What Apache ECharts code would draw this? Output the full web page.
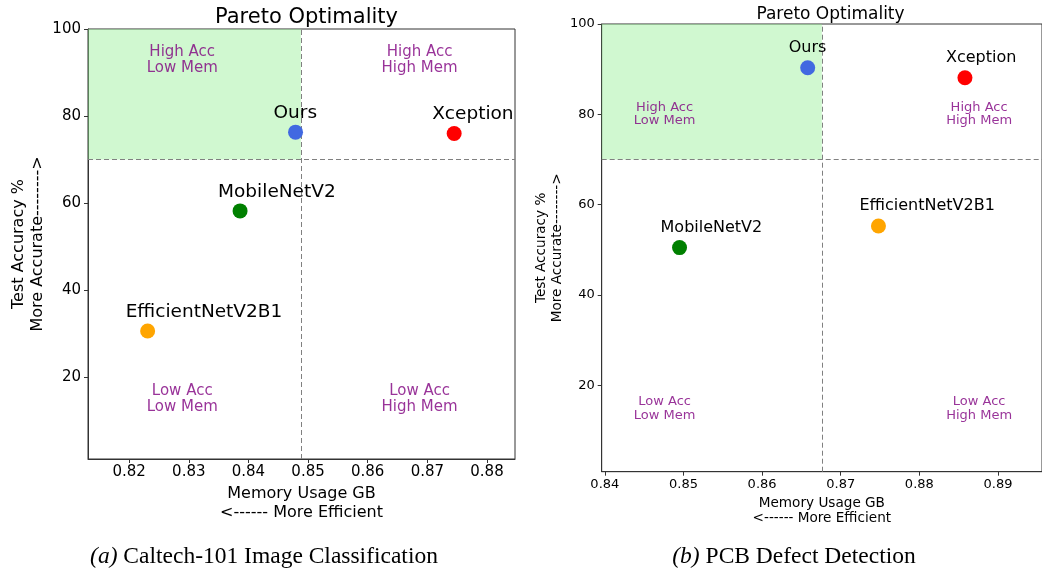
<!DOCTYPE html>
<html>
<head>
<meta charset="utf-8">
<script src="https://cdn.jsdelivr.net/npm/echarts@6/dist/echarts.min.js"></script>
<style>
  html, body { margin: 0; padding: 0; background: #fff; }
  #main { width: 1042px; height: 571px; }
</style>
</head>
<body>
<div id="main"></div>
<script>
// models, same order in both panels
var models = ['Ours', 'Xception', 'MobileNetV2', 'EfficientNetV2B1']
var modelColors = ['#4169e1', '#ff0000', '#008000', '#ffa500']

// (a) Caltech-101
var caltechMemory = [0.8479, 0.8745, 0.8386, 0.8231]
var caltechAccuracy = [76.3, 76.0, 58.2, 30.6]

// (b) PCB defect detection
var pcbMemory = [0.8658, 0.8858, 0.8495, 0.8748]
var pcbAccuracy = [90.3, 88.1, 50.5, 55.3]

// tick labels
var caltechXTicks = [0.82, 0.83, 0.84, 0.85, 0.86, 0.87, 0.88]
var pcbXTicks = [0.84, 0.85, 0.86, 0.87, 0.88, 0.89]
var accTicks = [20, 40, 60, 80, 100]

// pareto thresholds
var accThreshold = 70
var caltechMemThreshold = 0.8488
var pcbMemThreshold = 0.8676

// quadrant captions
var quadrantNames = ['High Acc\nLow Mem', 'High Acc\nHigh Mem', 'Low Acc\nLow Mem', 'Low Acc\nHigh Mem']
var caltechQuadMem = [0.8289, 0.8687, 0.8289, 0.8687]
var caltechQuadAcc = [92.8, 92.8, 15.0, 15.0]
var pcbQuadMem = [0.8476, 0.8876, 0.8476, 0.8876]
var pcbQuadAcc = [80.0, 80.0, 14.9, 14.9]

var axisColor = '#333'

function panelAxes (idx, xMin, xMax, yMin, xTicks, s) {
    var x = {
        gridIndex: idx,
        type: 'value',
        min: xMin,
        max: xMax,
        name: 'Memory Usage GB\n<------ More Efficient',
        nameLocation: 'middle',
        nameGap: s.xNameGap,
        nameTextStyle: { fontSize: s.nameSize, lineHeight: s.xNameLine, color: '#000', fontFamily: 'DejaVu Sans' },
        axisLine: { show: true, onZero: false, lineStyle: { color: axisColor, width: 1 } },
        axisTick: { show: true, customValues: xTicks, length: 4, lineStyle: { color: axisColor } },
        axisLabel: {
            customValues: xTicks, fontSize: s.tickSize, color: '#000', margin: 6,
            fontFamily: 'DejaVu Sans',
            formatter: function (v) { return v.toFixed(2) }
        },
        splitLine: { show: false }
    }
    var y = {
        gridIndex: idx,
        type: 'value',
        min: yMin,
        max: 100,
        name: 'Test Accuracy %\nMore Accurate-------->',
        nameLocation: 'middle',
        nameRotate: 90,
        nameGap: s.yNameGap,
        nameTextStyle: { fontSize: s.nameSize, lineHeight: s.yNameLine, color: '#000', fontFamily: 'DejaVu Sans' },
        axisLine: { show: true, onZero: false, lineStyle: { color: axisColor, width: 1 } },
        axisTick: { show: true, customValues: accTicks, length: 4, lineStyle: { color: axisColor } },
        axisLabel: { customValues: accTicks, fontSize: s.tickSize, color: '#000', margin: 7, fontFamily: 'DejaVu Sans' },
        splitLine: { show: false }
    }
    return [x, y]
}

function panelSeries (idx, mem, acc, memThreshold, xMin, quadMem, quadAcc, s) {
    var points = models.map(function (m, i) {
        return { name: m, value: [mem[i], acc[i]], itemStyle: { color: modelColors[i], opacity: 1 } }
    })
    var quads = quadrantNames.map(function (q, i) {
        return { name: q, value: [quadMem[i], quadAcc[i]] }
    })
    return [{
        type: 'scatter',
        xAxisIndex: idx,
        yAxisIndex: idx,
        symbolSize: s.symbolSize,
        data: points,
        z: 5,
        label: {
            show: true,
            formatter: '{b}',
            position: s.labelPos,
            align: 'left',
            verticalAlign: 'middle',
            fontSize: s.labelSize,
            color: '#000',
            fontFamily: 'DejaVu Sans'
        },
        markArea: {
            silent: true,
            itemStyle: { color: 'rgba(144,238,144,0.42)' },
            data: [[{ coord: [xMin, accThreshold] }, { coord: [memThreshold, 100] }]]
        },
        markLine: {
            silent: true,
            precision: 4,
            symbol: 'none',
            label: { show: false },
            lineStyle: { type: [5, 3], color: '#808080', width: 1 },
            data: [{ xAxis: memThreshold }, { yAxis: accThreshold }]
        }
    }, {
        type: 'scatter',
        xAxisIndex: idx,
        yAxisIndex: idx,
        symbolSize: 0,
        silent: true,
        data: quads,
        label: {
            show: true,
            formatter: '{b}',
            position: 'inside',
            color: '#800080',
            fontSize: s.quadSize,
            lineHeight: s.quadLine,
            fontFamily: 'DejaVu Sans'
        }
    }]
}

var leftStyle = {
    tickSize: 15, nameSize: 16, xNameGap: 26, yNameGap: 40, xNameLine: 18.5, yNameLine: 19.5,
    symbolSize: 15, labelSize: 18.5, labelPos: [-14.5, -11.5], quadSize: 15, quadLine: 16.5
}
var rightStyle = {
    tickSize: 13, nameSize: 13.6, xNameGap: 21, yNameGap: 36, xNameLine: 15.5, yNameLine: 16,
    symbolSize: 15, labelSize: 16, labelPos: [-11.5, -12.5], quadSize: 13, quadLine: 13.5
}

var leftAxes = panelAxes(0, 0.8131, 0.8847, 1.2, caltechXTicks, leftStyle)
var rightAxes = panelAxes(1, 0.8396, 0.8956, 0.9, pcbXTicks, rightStyle)

var captionFont = '23.5px "Liberation Serif"'

var chart = echarts.init(document.getElementById('main'))
chart.setOption({
    animation: false,
    backgroundColor: '#fff',
    title: [{
        text: 'Pareto Optimality',
        left: 301.5, top: 2, textAlign: 'center',
        textStyle: { fontSize: 21, fontWeight: 'normal', color: '#000', fontFamily: 'DejaVu Sans' }
    }, {
        text: 'Pareto Optimality',
        left: 825.5, top: 1, textAlign: 'center',
        textStyle: { fontSize: 17, fontWeight: 'normal', color: '#000', fontFamily: 'DejaVu Sans' }
    }],
    grid: [
        { left: 88, top: 29, width: 427, height: 430, show: true, borderColor: axisColor, borderWidth: 1 },
        { left: 601.7, top: 24, width: 448, height: 447.7, show: true, borderColor: axisColor, borderWidth: 1 }
    ],
    xAxis: [leftAxes[0], rightAxes[0]],
    yAxis: [leftAxes[1], rightAxes[1]],
    series: panelSeries(0, caltechMemory, caltechAccuracy, caltechMemThreshold, 0.8131, caltechQuadMem, caltechQuadAcc, leftStyle)
        .concat(panelSeries(1, pcbMemory, pcbAccuracy, pcbMemThreshold, 0.8396, pcbQuadMem, pcbQuadAcc, rightStyle)),
    graphic: [{
        type: 'text',
        x: 264, y: 557,
        style: {
            text: '{i|(a)} Caltech-101 Image Classification',
            align: 'center', verticalAlign: 'middle',
            font: captionFont, fill: '#000',
            rich: { i: { fontStyle: 'italic', fontSize: 23.5, fontFamily: 'Liberation Serif' } }
        }
    }, {
        type: 'text',
        x: 794, y: 557,
        style: {
            text: '{i|(b)} PCB Defect Detection',
            align: 'center', verticalAlign: 'middle',
            font: captionFont, fill: '#000',
            rich: { i: { fontStyle: 'italic', fontSize: 23.5, fontFamily: 'Liberation Serif' } }
        }
    }]
})
</script>
</body>
</html>
